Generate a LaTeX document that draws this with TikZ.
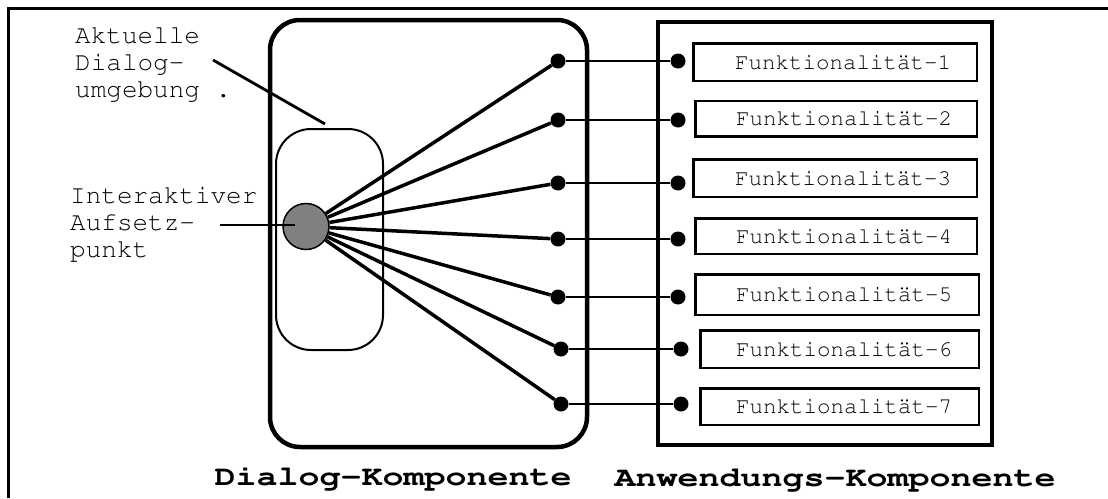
\documentclass[tikz,border=0pt]{standalone}
\usepackage[T1]{fontenc}
\usepackage{tikz}
\definecolor{punktgrau}{RGB}{128,128,128}
\newcommand{\courier}{\fontencoding{T1}\fontfamily{pcr}\selectfont}

\begin{document}
\begin{tikzpicture}[x=1pt,y=-1pt,node distance=120pt,auto]
		\tikzstyle{frame}=[line width=2.5pt]
		\tikzstyle{komponente}=[rectangle, draw=black, line width=4.5pt, inner sep=0pt]
		\tikzstyle{umgebung}=[rectangle, rounded corners=35pt, draw=black, line width=2pt, inner sep=0pt]
		\tikzstyle{aufsetz}=[circle, draw=black, line width=1.5pt, fill=punktgrau, minimum size=46pt, inner sep=0pt]
		\tikzstyle{dot}=[circle, fill=black, minimum size=15pt, inner sep=0pt]
		\tikzstyle{funk}=[rectangle, draw=black, line width=2.5pt, inner sep=0pt, font=\courier\fontsize{22.5}{24}\selectfont]
		\tikzstyle{beschr}=[align=left, inner sep=0pt, font=\courier\fontsize{26}{27}\selectfont]
		\tikzstyle{titel}=[inner sep=0pt, font=\courier\fontsize{28}{30}\selectfont\bfseries]
		\tikzstyle{spoke}=[line width=3.5pt]
		\tikzstyle{link}=[line width=2pt]
		\tikzstyle{hinweis}=[line width=2.8pt]

		\useasboundingbox (0,0) rectangle (1108,498);
		\draw [frame] (8.5,498) -- (8.5,8.5) -- (1108,8.5);

		\node [komponente, rounded corners=30pt, minimum width=317pt, minimum height=427pt] (dk) at (428.5,233.5) {};
		\node [komponente, minimum width=334pt, minimum height=423pt] (ak) at (825,233.5) {};
		\node [umgebung, minimum width=107pt, minimum height=221pt] (du) at (329.5,239.5) {};
		\node [aufsetz] (ip) at (306,226.5) {};

		\node [beschr, anchor=north west] (akt) at (75,27) {Aktuelle\\Dialog-\\umgebung .};
		\node [beschr, anchor=north west] (iak) at (70,187) {Interaktiver\\Aufsetz-\\punkt};
		\coordinate (akt-ende) at (213,60);
		\coordinate (du-oben) at (325,124);
		\coordinate (iak-ende) at (220,225);
		\coordinate (ip-innen) at (295,225);
		\draw [hinweis] (akt-ende) -- (du-oben);
		\draw [link] (iak-ende) -- (ip-innen);

		\node [dot] (l1) at (558,61) {} edge [spoke] (ip);
		\node [dot] (l2) at (558,120) {} edge [spoke] (ip);
		\node [dot] (l3) at (558,183) {} edge [spoke] (ip);
		\node [dot] (l4) at (558,239) {} edge [spoke] (ip);
		\node [dot] (l5) at (558,297) {} edge [spoke] (ip);
		\node [dot] (l6) at (561,349) {} edge [spoke] (ip);
		\node [dot] (l7) at (561,404) {} edge [spoke] (ip);

		\node [dot] (r1) [right of=l1] {} edge [link] (l1);
		\node [dot] (r2) [right of=l2] {} edge [link] (l2);
		\node [dot] (r3) [right of=l3] {} edge [link] (l3);
		\node [dot] (r4) [right of=l4] {} edge [link] (l4);
		\node [dot] (r5) [right of=l5] {} edge [link] (l5);
		\node [dot] (r6) [right of=l6] {} edge [link] (l6);
		\node [dot] (r7) [right of=l7] {} edge [link] (l7);

		\node [funk, minimum width=283.5pt, minimum height=37.5pt] (f1) at (835,62) {\hspace*{16pt}Funktionalität-1};
		\node [funk, minimum width=281.5pt, minimum height=35.5pt] (f2) at (836,118.5) {\hspace*{16pt}Funktionalität-2};
		\node [funk, minimum width=283.5pt, minimum height=37.5pt] (f3) at (835,178) {\hspace*{16pt}Funktionalität-3};
		\node [funk, minimum width=281.5pt, minimum height=35.5pt] (f4) at (836,236) {\hspace*{16pt}Funktionalität-4};
		\node [funk, minimum width=283.5pt, minimum height=40.5pt] (f5) at (837,294.5) {\hspace*{14pt}Funktionalität-5};
		\node [funk, minimum width=278.5pt, minimum height=37.5pt] (f6) at (839.5,349) {\hspace*{9pt}Funktionalität-6};
		\node [funk, minimum width=278.5pt, minimum height=36.5pt] (f7) at (839.5,406.5) {\hspace*{9pt}Funktionalität-7};

		\node [titel, anchor=base] (dkt) at (393,485) {\scalebox{1.25}[1]{Dialog-Komponente}};
		\node [titel, anchor=base] (akt-titel) at (835,486) {\scalebox{1.25}[1]{Anwendungs-Komponente}};
	\end{tikzpicture}
\end{document}
